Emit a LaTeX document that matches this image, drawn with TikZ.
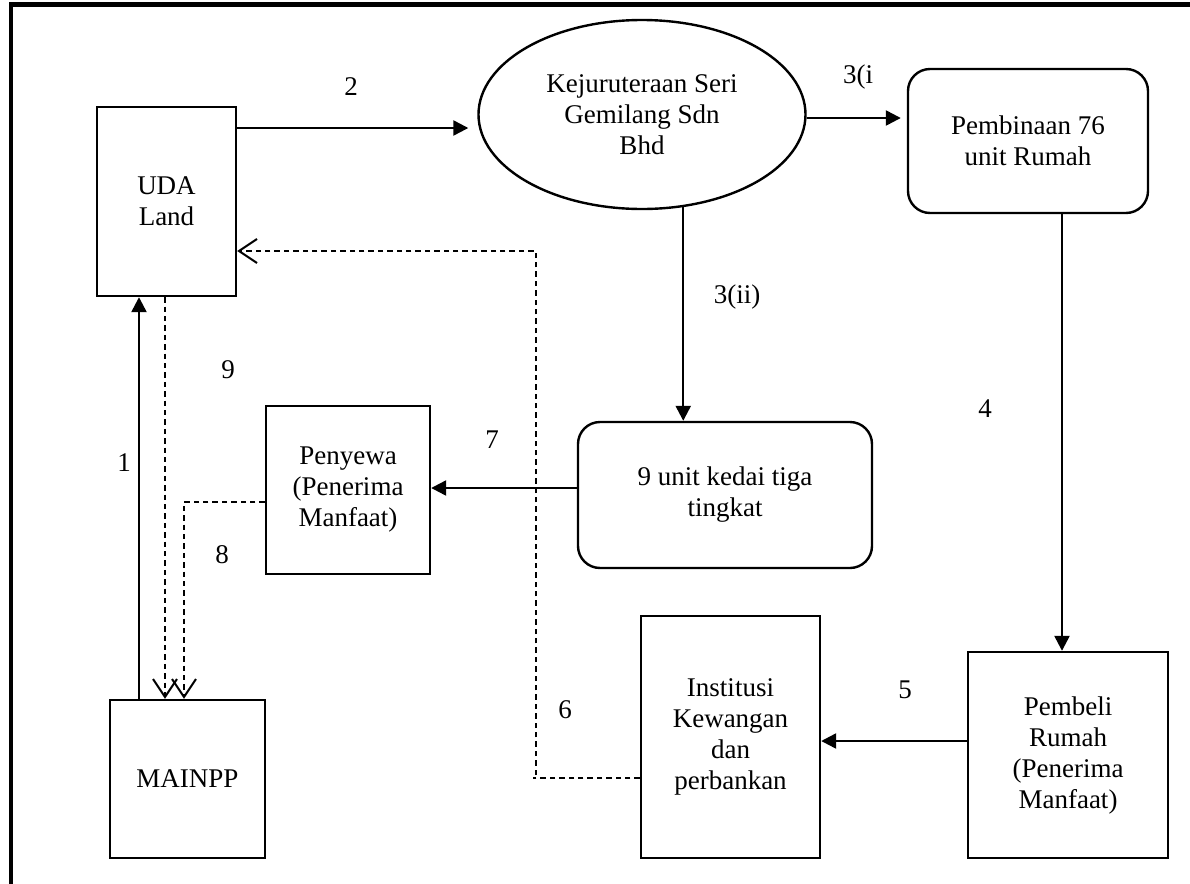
\documentclass[tikz,border=0pt]{standalone}
\usepackage{fontspec}
\setmainfont{Liberation Serif}
\usetikzlibrary{shapes, arrows.meta, positioning, calc}

\begin{document}
\begin{tikzpicture}[x=0.5pt, y=-0.5pt,
  box/.style={draw, line width=1.2pt, inner sep=0pt, align=center, font=\fontsize{13.5}{15.5}\selectfont},
  rbox/.style={box, rounded corners=11pt},
  lbl/.style={font=\fontsize{13.5}{15.5}\selectfont, inner sep=0pt},
  flow/.style={line width=1.2pt, -{Triangle[length=7.5pt, width=7.5pt]}},
  back/.style={line width=0.9pt, dash pattern=on 2.7pt off 2pt, -{Straight Barb[length=9pt, width=12pt, line width=1pt]}}]
  \useasboundingbox (0,0) rectangle (1190,884);

  % Frame
  \draw[line width=2.4pt] (11,890) -- (11,4.5) -- (1195,4.5);

  % Parties
  \node[box, minimum width=69.5pt, minimum height=94.5pt] (uda) at (166.5,201.5) {UDA\\Land};
  \node[box, ellipse, minimum width=163.5pt, minimum height=94.5pt] (kej) at (642,114.5) {Kejuruteraan Seri\\Gemilang Sdn\\Bhd};
  \node[rbox, minimum width=120pt, minimum height=72pt] (bina) at (1028,141) {Pembinaan 76\\unit Rumah};
  \node[rbox, minimum width=147pt, minimum height=73pt] (kedai) at (725,495) {9 unit kedai tiga\\tingkat};
  \node[box, minimum width=82pt, minimum height=84pt] (sewa) at (348,490) {Penyewa\\(Penerima\\Manfaat)};
  \node[box, minimum width=100pt, minimum height=103pt] (beli) at (1068,755) {Pembeli\\Rumah\\(Penerima\\Manfaat)};
  \node[box, minimum width=89.5pt, minimum height=121pt] (inst) at (730.5,737) {Institusi\\Kewangan\\dan\\perbankan};
  \node[box, minimum width=77.5pt, minimum height=79pt] (mainpp) at (187.5,779) {MAINPP};

  % Connector positions
  \coordinate (y2) at (0,128);
  \coordinate (y3) at (0,118);
  \coordinate (x4) at (1062,0);
  \coordinate (y5) at (0,741);
  \coordinate (c6) at (536,778);
  \coordinate (c6t) at (536,251);
  \coordinate (y7) at (0,488);
  \coordinate (c8) at (184,502);
  \coordinate (x1) at (139,0);
  \coordinate (x9) at (165,0);

  % Flows
  \draw[flow, shorten >=4.5pt] (uda.east |- y2) -- (kej.west |- y2);
  \draw[flow, shorten >=3pt] (kej.east |- y3) -- (bina.west |- y3);
  \draw[flow] (kej.-66) -- (kej.-66 |- kedai.north);
  \draw[flow] (bina.south -| x4) -- (beli.north -| x4);
  \draw[flow] (beli.west |- y5) -- (inst.east |- y5);
  \draw[back] (inst.west |- c6) -- ([xshift=-1.5pt]c6) -- (c6) -- (c6t) -- (uda.east |- c6t);
  \draw[flow] (kedai.west |- y7) -- (sewa.east |- y7);
  \draw[back] (sewa.west |- c8) -- (c8) -- (mainpp.north -| c8);
  \draw[flow] (mainpp.north -| x1) -- (uda.south -| x1);
  \draw[back] (uda.south -| x9) -- (mainpp.north -| x9);

  % Step numbers
  \node[lbl] (l1) at (124,463) {1};
  \node[lbl] (l2) at (351,87) {2};
  \node[lbl] (l3a) at (858,77) {3(i};
  \node[lbl] (l3b) at (737,297) {3(ii)};
  \node[lbl] (l4) at (985,409) {4};
  \node[lbl] (l5) at (905,690) {5};
  \node[lbl] (l6) at (565,710) {6};
  \node[lbl] (l7) at (492,440) {7};
  \node[lbl] (l8) at (222,555) {8};
  \node[lbl] (l9) at (228,370) {9};
\end{tikzpicture}
\end{document}
